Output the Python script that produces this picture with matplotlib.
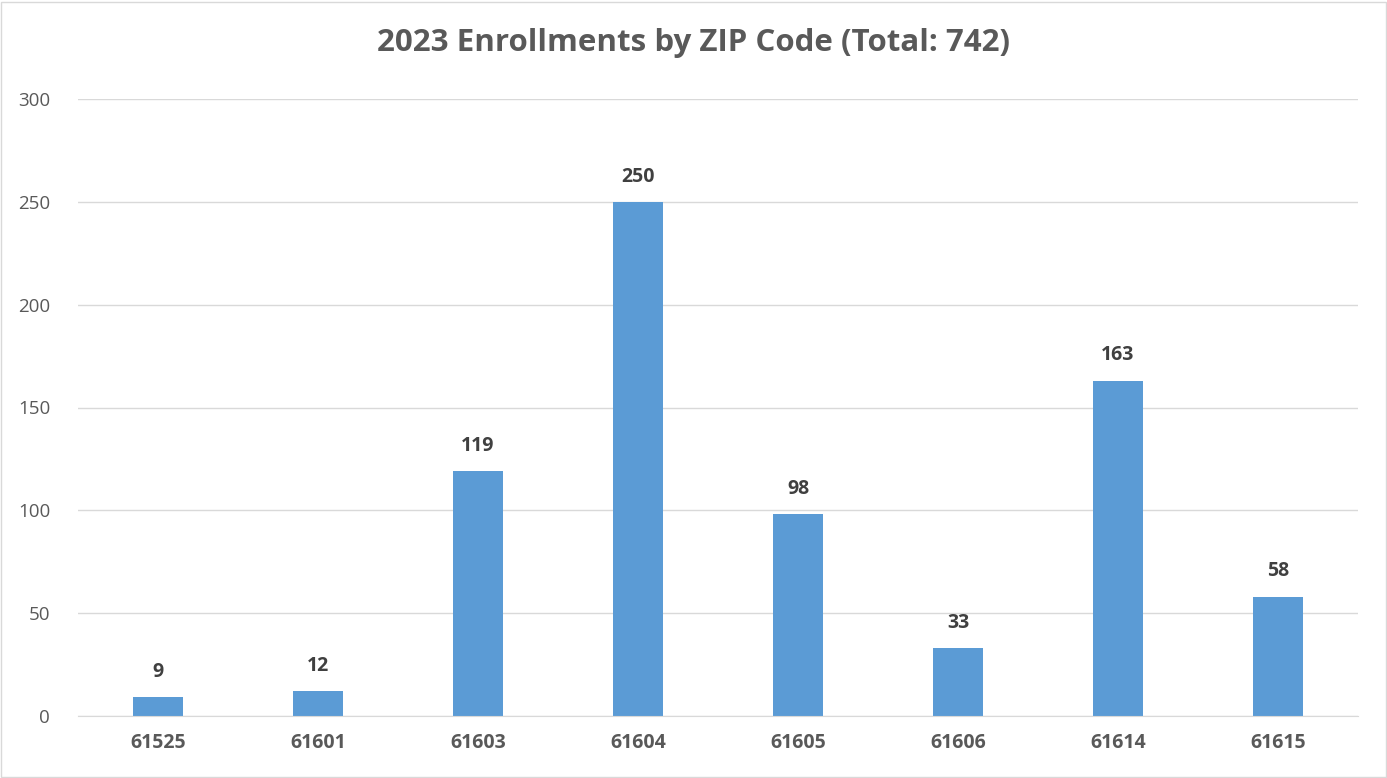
import matplotlib
matplotlib.use("Agg")
import matplotlib.pyplot as plt
from matplotlib.patches import Rectangle

zips = ["61525", "61601", "61603", "61604", "61605", "61606", "61614", "61615"]
enrollments = [9, 12, 119, 250, 98, 33, 163, 58]
title = "2023 Enrollments by ZIP Code (Total: 742)"
yticks = [0, 50, 100, 150, 200, 250, 300]

plt.rcParams['font.family'] = ['Open Sans', 'DejaVu Sans']
grey = "#595959"

fig = plt.figure(figsize=(13.87, 7.78), dpi=100)
ax = fig.add_axes([78/1387, 62/778, 1280/1387, 617/778])
x = list(range(len(zips)))
bars = ax.bar(x, enrollments, width=0.31, color="#5B9BD5", zorder=3)
ax.set_xlim(-0.5, len(zips) - 0.5)
ax.set_ylim(0, 300)
ax.set_yticks(yticks)
ax.set_yticklabels([str(v) for v in yticks], fontsize=13.5, color=grey)
ax.set_xticks(x)
ax.set_xticklabels(zips, fontsize=14, color=grey, fontweight='bold')
ax.tick_params(axis='both', length=0)
ax.tick_params(axis='y', pad=20)
ax.tick_params(axis='x', pad=12)
ax.grid(axis='y', color="#D9D9D9", linewidth=1, zorder=0)
for s in ["top", "right", "left"]:
    ax.spines[s].set_visible(False)
ax.spines["bottom"].set_color("#D9D9D9")
ax.spines["bottom"].set_zorder(4)

for xi, v in zip(x, enrollments):
    ax.annotate(str(v), (xi, v), xytext=(0, 11), textcoords='offset points',
                ha='center', va='bottom', fontsize=14, fontweight='bold', color="#404040")

fig.text(0.5, 1 - 43/778, title, ha='center', va='center', fontsize=22.5,
         fontweight='bold', color=grey)

fig.patches.append(Rectangle((0.001, 0.001), 0.998, 0.997, transform=fig.transFigure,
                             fill=False, edgecolor="#D9D9D9", linewidth=1))

fig.savefig("out.png", dpi=100)
